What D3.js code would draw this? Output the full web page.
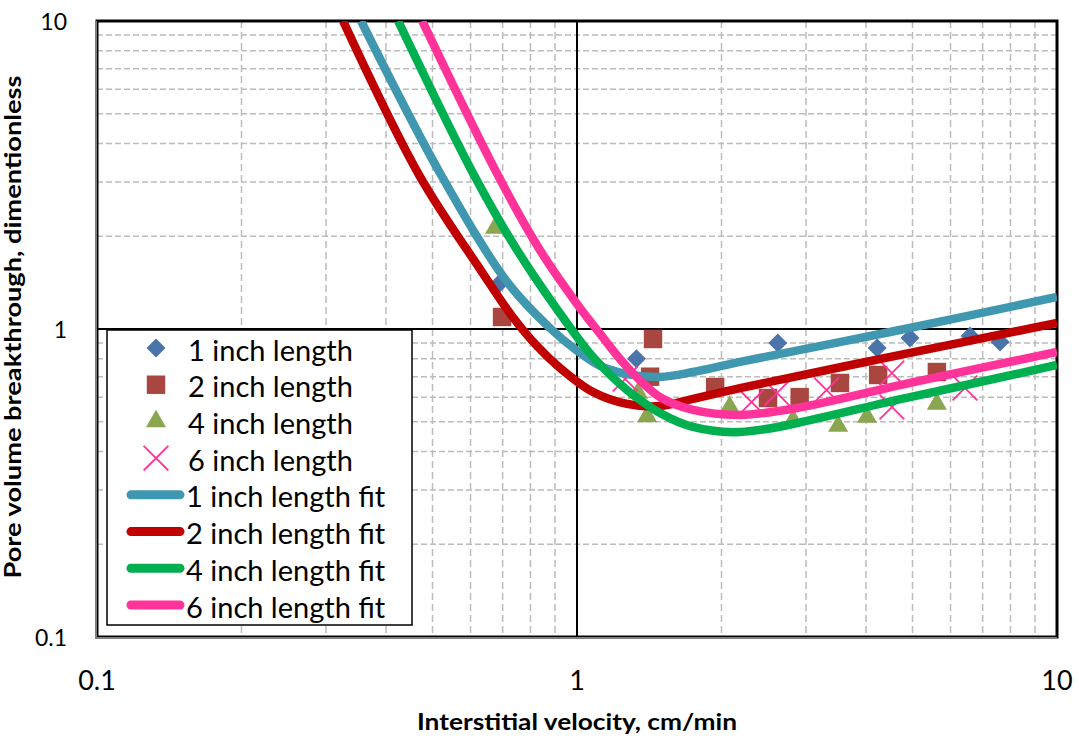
<!DOCTYPE html>
<html>
<head>
<meta charset="utf-8">
<script src="https://cdn.jsdelivr.net/npm/d3@7"></script>
<style>
  body { margin: 0; background: #fff; }
  text { font-family: Lato, "Open Sans", sans-serif; fill: #000; }
</style>
</head>
<body>
<svg id="chart_svg" width="1079" height="741"></svg>
<script>
// axis ticks
var xTicks = [0.1, 1, 10];
var yTicks = [0.1, 1, 10];

// measured points [velocity, pore volume]
var pts1in = [[0.684, 1.39], [1.33, 0.80], [2.62, 0.90], [4.22, 0.868], [4.94, 0.935], [6.59, 0.949], [7.61, 0.907]];
var pts2in = [[0.698, 1.094], [1.44, 0.928], [1.42, 0.70], [1.94, 0.648], [2.50, 0.597], [2.91, 0.601], [3.53, 0.668], [4.24, 0.709], [5.62, 0.725]];
var pts4in = [[0.675, 2.13], [1.34, 0.62], [1.40, 0.52], [2.08, 0.558], [2.82, 0.506], [3.50, 0.484], [4.02, 0.518], [5.62, 0.571]];
var pts6in = [[1.26, 0.688], [2.31, 0.579], [2.61, 0.62], [3.31, 0.634], [4.53, 0.72], [4.53, 0.558], [6.43, 0.643]];

// fitted curves
var fit1in = [[0.355, 10], [0.521, 3.162], [0.718, 1.411], [0.878, 1.0075], [0.995, 0.855], [1.117, 0.759], [1.271, 0.714], [1.489, 0.699], [1.745, 0.725], [2.186, 0.782], [4.49, 0.978], [10, 1.27]];
var fit2in = [[0.3256, 10], [0.469, 3.16], [0.634, 1.531], [0.732, 1.102], [0.825, 0.881], [0.922, 0.747], [1.080, 0.624], [1.271, 0.571], [1.489, 0.562], [1.745, 0.593], [2.186, 0.643], [4.94, 0.836], [10, 1.046]];
var fit4in = [[0.424, 10], [0.610, 3.16], [0.750, 1.805], [0.976, 0.993], [1.080, 0.811], [1.271, 0.634], [1.489, 0.534], [1.745, 0.481], [2.186, 0.463], [4.94, 0.601], [10, 0.764]];
var fit6in = [[0.476, 10], [0.684, 3.16], [0.837, 1.805], [1.0, 1.206], [1.101, 0.993], [1.271, 0.753], [1.489, 0.601], [1.745, 0.546], [2.186, 0.526], [2.873, 0.554], [4.94, 0.668], [10, 0.842]];

var pointNames = ["1 inch length", "2 inch length", "4 inch length", "6 inch length"];
var fitNames = ["1 inch length fit", "2 inch length fit", "4 inch length fit", "6 inch length fit"];

var plot = {left: 97, right: 1057, top: 21, bottom: 637};

var x = d3.scaleLog().domain([0.1, 10]).range([plot.left, plot.right]);
var y = d3.scaleLog().domain([0.1, 10]).range([plot.bottom, plot.top]);

var base = d3.select('#chart_svg');
base.append("rect").attr("width", 1079).attr("height", 741).attr("fill", "#fff");

// minor grid values
var minor = [];
[0.1, 1].forEach(function(d) {
    for (var k = 2; k <= 9; k++) minor.push(d * k);
});

var gridGroup = base.append("g").attr("id", "grid-group");
gridGroup.selectAll("line.vminor").data(minor).enter().append("line")
    .attr("x1", function(d) { return x(d); }).attr("x2", function(d) { return x(d); })
    .attr("y1", plot.top).attr("y2", plot.bottom)
    .attr("stroke", "#bcbcbc").attr("stroke-width", 1.5).attr("stroke-dasharray", "7,4");
gridGroup.selectAll("line.hminor").data(minor).enter().append("line")
    .attr("y1", function(d) { return y(d); }).attr("y2", function(d) { return y(d); })
    .attr("x1", plot.left).attr("x2", plot.right)
    .attr("stroke", "#bcbcbc").attr("stroke-width", 1.5).attr("stroke-dasharray", "6,3");
// major grid at 1
gridGroup.append("line")
    .attr("x1", x(1)).attr("x2", x(1)).attr("y1", plot.top).attr("y2", plot.bottom)
    .attr("stroke", "#000").attr("stroke-width", 2);
gridGroup.append("line")
    .attr("y1", y(1)).attr("y2", y(1)).attr("x1", plot.left).attr("x2", plot.right)
    .attr("stroke", "#000").attr("stroke-width", 2);

// plot frame
base.append("rect")
    .attr("x", plot.left).attr("y", plot.top)
    .attr("width", plot.right - plot.left).attr("height", plot.bottom - plot.top)
    .attr("fill", "none").attr("stroke", "#000").attr("stroke-width", 3);
base.append("path")
    .attr("d", "M" + (plot.left - 1) + "," + plot.top + "V" + (plot.bottom + 1) + "H" + plot.right)
    .attr("fill", "none").attr("stroke", "#7f7f7f").attr("stroke-width", 2);

// tick labels
base.append("g").selectAll("text").data(xTicks).enter().append("text")
    .attr("x", function(d) { return x(d); }).attr("y", 690)
    .attr("text-anchor", "middle").attr("font-size", "27px")
    .text(function(d) { return d; });
base.append("g").selectAll("text").data(yTicks).enter().append("text")
    .attr("x", 67).attr("y", function(d) { return y(d); })
    .attr("text-anchor", "end").attr("dominant-baseline", "central").attr("font-size", "23px")
    .text(function(d) { return d; });

// axis titles
base.append("text")
    .text("Interstitial velocity, cm/min")
    .attr("x", x(1)).attr("y", 730)
    .attr("text-anchor", "middle").attr("font-size", "23px").attr("font-weight", "bold")
    .attr("textLength", 320).attr("lengthAdjust", "spacingAndGlyphs");
base.append("text")
    .text("Pore volume breakthrough, dimentionless")
    .attr("transform", "translate(21,327) rotate(-90)")
    .attr("text-anchor", "middle").attr("font-size", "22px").attr("font-weight", "bold")
    .attr("textLength", 503).attr("lengthAdjust", "spacingAndGlyphs");

// markers
var markers = [
    {data: pts1in, type: d3.symbolSquare, size: 180, rot: 45, fill: "#4a74aa", stroke: "none"},
    {data: pts2in, type: d3.symbolSquare, size: 340, rot: 0, fill: "#a8463f", stroke: "none"},
    {data: pts4in, type: d3.symbolTriangle, size: 175, rot: 0, fill: "#8aa651", stroke: "none"},
    {data: pts6in, type: d3.symbolX, size: 400, rot: 0, fill: "none", stroke: "#ff3399"}
];

base.append("clipPath").attr("id", "plot-clip").append("rect")
    .attr("x", plot.left).attr("y", plot.top)
    .attr("width", plot.right - plot.left).attr("height", plot.bottom - plot.top);

var markGroup = base.append("g").attr("id", "marker-group");
markers.forEach(function(m) {
    markGroup.append("g").selectAll("path").data(m.data).enter().append("path")
        .attr("d", d3.symbol().type(m.type).size(m.size))
        .attr("transform", function(d) { return "translate(" + x(d[0]) + "," + y(d[1]) + ") rotate(" + m.rot + ")"; })
        .attr("fill", m.fill).attr("stroke", m.stroke).attr("stroke-width", 1.8);
});

// fit lines
var fits = [
    {data: fit1in, color: "#4097b0"},
    {data: fit2in, color: "#c00000"},
    {data: fit4in, color: "#00b050"},
    {data: fit6in, color: "#ff3399"}
];
var line = d3.line()
    .x(function(d) { return x(d[0]); })
    .y(function(d) { return y(d[1]); })
    .curve(d3.curveCatmullRom.alpha(0.5));

var fitGroup = base.append("g").attr("id", "fit-group").attr("clip-path", "url(#plot-clip)");
fits.forEach(function(f) {
    fitGroup.append("path")
        .attr("d", line(f.data))
        .attr("fill", "none").attr("stroke", f.color).attr("stroke-width", 8.5)
        .attr("stroke-linejoin", "round");
});

// legend
var legend = base.append("g").attr("id", "legend-group");
legend.append("rect")
    .attr("x", 107).attr("y", 330).attr("width", 305).attr("height", 295)
    .attr("fill", "#fff").attr("stroke", "#000").attr("stroke-width", 1.5);

var rowY = d3.scaleLinear().domain([0, 7]).range([348, 605]);

markers.forEach(function(m, i) {
    legend.append("path")
        .attr("d", d3.symbol().type(m.type).size(m.size))
        .attr("transform", "translate(156," + rowY(i) + ") rotate(" + m.rot + ")")
        .attr("fill", m.fill).attr("stroke", m.stroke).attr("stroke-width", 1.8);
    legend.append("text")
        .text(pointNames[i])
        .attr("x", 188).attr("y", rowY(i) + 1)
        .attr("dominant-baseline", "central").attr("font-size", "29px");
});
fits.forEach(function(f, i) {
    legend.append("line")
        .attr("x1", 131).attr("x2", 180)
        .attr("y1", rowY(i + 4)).attr("y2", rowY(i + 4))
        .attr("stroke", f.color).attr("stroke-width", 9).attr("stroke-linecap", "round");
    legend.append("text")
        .text(fitNames[i])
        .attr("x", 186).attr("y", rowY(i + 4) + 1)
        .attr("dominant-baseline", "central").attr("font-size", "29px");
});
</script>
</body>
</html>
